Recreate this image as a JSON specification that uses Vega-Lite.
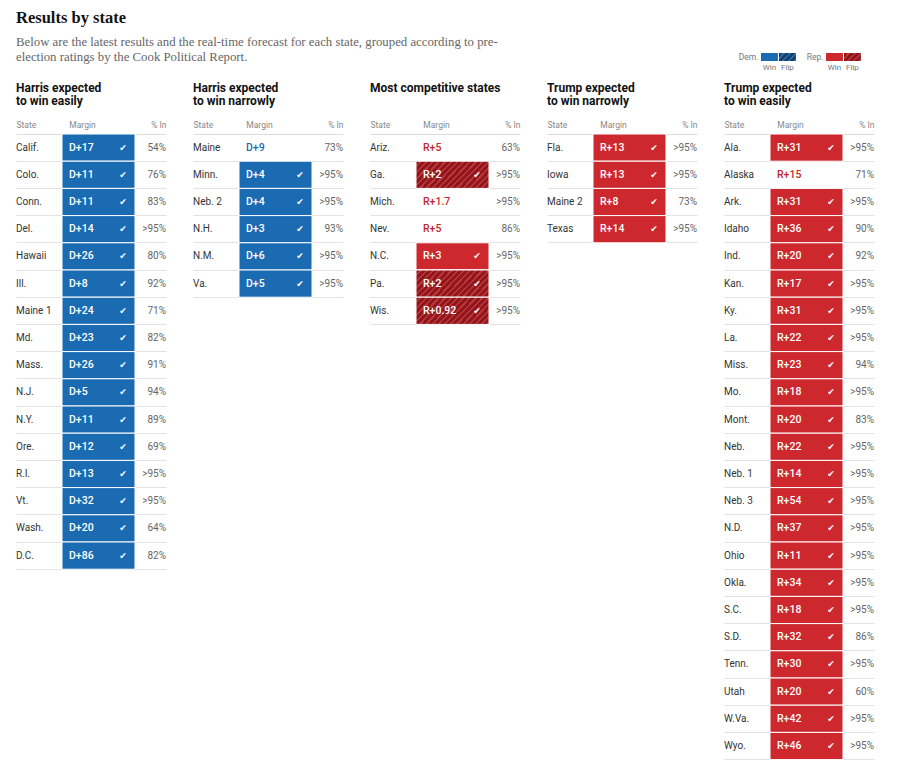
{
  "$schema": "https://vega.github.io/schema/vega-lite/v6.json",
  "padding": {"left": 16, "top": 10, "right": 6, "bottom": 4},
  "background": "white",
  "config": {"font": "Roboto", "view": {"stroke": null}},
  "title": {
    "text": "Results by state",
    "subtitle": ["Below are the latest results and the real-time forecast for each state, grouped according to pre-", "election ratings by the Cook Political Report."],
    "anchor": "start", "frame": "group",
    "font": "Liberation Serif", "fontSize": 16.5, "fontWeight": "bold", "color": "#121212",
    "subtitleFont": "Liberation Serif", "subtitleFontSize": 12.8, "subtitleColor": "#666666",
    "subtitleLineHeight": 15, "subtitlePadding": 9, "offset": -11
  },
  "datasets": {
    "rows": [
      {"g": "HE", "state": "Calif.", "margin": "D+17", "pct": "54%", "status": "D win", "lead": "D"},
      {"g": "HE", "state": "Colo.", "margin": "D+11", "pct": "76%", "status": "D win", "lead": "D"},
      {"g": "HE", "state": "Conn.", "margin": "D+11", "pct": "83%", "status": "D win", "lead": "D"},
      {"g": "HE", "state": "Del.", "margin": "D+14", "pct": ">95%", "status": "D win", "lead": "D"},
      {"g": "HE", "state": "Hawaii", "margin": "D+26", "pct": "80%", "status": "D win", "lead": "D"},
      {"g": "HE", "state": "Ill.", "margin": "D+8", "pct": "92%", "status": "D win", "lead": "D"},
      {"g": "HE", "state": "Maine 1", "margin": "D+24", "pct": "71%", "status": "D win", "lead": "D"},
      {"g": "HE", "state": "Md.", "margin": "D+23", "pct": "82%", "status": "D win", "lead": "D"},
      {"g": "HE", "state": "Mass.", "margin": "D+26", "pct": "91%", "status": "D win", "lead": "D"},
      {"g": "HE", "state": "N.J.", "margin": "D+5", "pct": "94%", "status": "D win", "lead": "D"},
      {"g": "HE", "state": "N.Y.", "margin": "D+11", "pct": "89%", "status": "D win", "lead": "D"},
      {"g": "HE", "state": "Ore.", "margin": "D+12", "pct": "69%", "status": "D win", "lead": "D"},
      {"g": "HE", "state": "R.I.", "margin": "D+13", "pct": ">95%", "status": "D win", "lead": "D"},
      {"g": "HE", "state": "Vt.", "margin": "D+32", "pct": ">95%", "status": "D win", "lead": "D"},
      {"g": "HE", "state": "Wash.", "margin": "D+20", "pct": "64%", "status": "D win", "lead": "D"},
      {"g": "HE", "state": "D.C.", "margin": "D+86", "pct": "82%", "status": "D win", "lead": "D"},
      {"g": "HN", "state": "Maine", "margin": "D+9", "pct": "73%", "status": "none", "lead": "D"},
      {"g": "HN", "state": "Minn.", "margin": "D+4", "pct": ">95%", "status": "D win", "lead": "D"},
      {"g": "HN", "state": "Neb. 2", "margin": "D+4", "pct": ">95%", "status": "D win", "lead": "D"},
      {"g": "HN", "state": "N.H.", "margin": "D+3", "pct": "93%", "status": "D win", "lead": "D"},
      {"g": "HN", "state": "N.M.", "margin": "D+6", "pct": ">95%", "status": "D win", "lead": "D"},
      {"g": "HN", "state": "Va.", "margin": "D+5", "pct": ">95%", "status": "D win", "lead": "D"},
      {"g": "C", "state": "Ariz.", "margin": "R+5", "pct": "63%", "status": "none", "lead": "R"},
      {"g": "C", "state": "Ga.", "margin": "R+2", "pct": ">95%", "status": "R flip", "lead": "R"},
      {"g": "C", "state": "Mich.", "margin": "R+1.7", "pct": ">95%", "status": "none", "lead": "R"},
      {"g": "C", "state": "Nev.", "margin": "R+5", "pct": "86%", "status": "none", "lead": "R"},
      {"g": "C", "state": "N.C.", "margin": "R+3", "pct": ">95%", "status": "R win", "lead": "R"},
      {"g": "C", "state": "Pa.", "margin": "R+2", "pct": ">95%", "status": "R flip", "lead": "R"},
      {"g": "C", "state": "Wis.", "margin": "R+0.92", "pct": ">95%", "status": "R flip", "lead": "R"},
      {"g": "TN", "state": "Fla.", "margin": "R+13", "pct": ">95%", "status": "R win", "lead": "R"},
      {"g": "TN", "state": "Iowa", "margin": "R+13", "pct": ">95%", "status": "R win", "lead": "R"},
      {"g": "TN", "state": "Maine 2", "margin": "R+8", "pct": "73%", "status": "R win", "lead": "R"},
      {"g": "TN", "state": "Texas", "margin": "R+14", "pct": ">95%", "status": "R win", "lead": "R"},
      {"g": "TE", "state": "Ala.", "margin": "R+31", "pct": ">95%", "status": "R win", "lead": "R"},
      {"g": "TE", "state": "Alaska", "margin": "R+15", "pct": "71%", "status": "none", "lead": "R"},
      {"g": "TE", "state": "Ark.", "margin": "R+31", "pct": ">95%", "status": "R win", "lead": "R"},
      {"g": "TE", "state": "Idaho", "margin": "R+36", "pct": "90%", "status": "R win", "lead": "R"},
      {"g": "TE", "state": "Ind.", "margin": "R+20", "pct": "92%", "status": "R win", "lead": "R"},
      {"g": "TE", "state": "Kan.", "margin": "R+17", "pct": ">95%", "status": "R win", "lead": "R"},
      {"g": "TE", "state": "Ky.", "margin": "R+31", "pct": ">95%", "status": "R win", "lead": "R"},
      {"g": "TE", "state": "La.", "margin": "R+22", "pct": ">95%", "status": "R win", "lead": "R"},
      {"g": "TE", "state": "Miss.", "margin": "R+23", "pct": "94%", "status": "R win", "lead": "R"},
      {"g": "TE", "state": "Mo.", "margin": "R+18", "pct": ">95%", "status": "R win", "lead": "R"},
      {"g": "TE", "state": "Mont.", "margin": "R+20", "pct": "83%", "status": "R win", "lead": "R"},
      {"g": "TE", "state": "Neb.", "margin": "R+22", "pct": ">95%", "status": "R win", "lead": "R"},
      {"g": "TE", "state": "Neb. 1", "margin": "R+14", "pct": ">95%", "status": "R win", "lead": "R"},
      {"g": "TE", "state": "Neb. 3", "margin": "R+54", "pct": ">95%", "status": "R win", "lead": "R"},
      {"g": "TE", "state": "N.D.", "margin": "R+37", "pct": ">95%", "status": "R win", "lead": "R"},
      {"g": "TE", "state": "Ohio", "margin": "R+11", "pct": ">95%", "status": "R win", "lead": "R"},
      {"g": "TE", "state": "Okla.", "margin": "R+34", "pct": ">95%", "status": "R win", "lead": "R"},
      {"g": "TE", "state": "S.C.", "margin": "R+18", "pct": ">95%", "status": "R win", "lead": "R"},
      {"g": "TE", "state": "S.D.", "margin": "R+32", "pct": "86%", "status": "R win", "lead": "R"},
      {"g": "TE", "state": "Tenn.", "margin": "R+30", "pct": ">95%", "status": "R win", "lead": "R"},
      {"g": "TE", "state": "Utah", "margin": "R+20", "pct": "60%", "status": "R win", "lead": "R"},
      {"g": "TE", "state": "W.Va.", "margin": "R+42", "pct": ">95%", "status": "R win", "lead": "R"},
      {"g": "TE", "state": "Wyo.", "margin": "R+46", "pct": ">95%", "status": "R win", "lead": "R"}
    ],
    "legend": [
      {"party": "D", "kind": "Win"},
      {"party": "D", "kind": "Flip"},
      {"party": "R", "kind": "Win"},
      {"party": "R", "kind": "Flip"}
    ]
  },
  "spacing": 11,
  "vconcat": [
    {
      "hconcat": [
        {"width": 715, "height": 8, "data": {"values": []}, "mark": {"type": "rect", "opacity": 0}, "encoding": {}},
        {
          "data": {"name": "legend"},
          "transform": [{"filter": "datum.party == 'D'"}],
          "width": {"step": 18}, "height": 8,
          "encoding": {
            "x": {"field": "kind", "type": "nominal", "sort": null, "scale": {"domain": ["Win", "Flip"], "paddingInner": 0.06, "paddingOuter": 0}, "axis": {"orient": "bottom", "title": null, "ticks": false, "domain": false, "labelAngle": 0, "labelFontSize": 8, "labelColor": "#777777", "labelPadding": 2}},
            "y": {"datum": "Dem.", "type": "nominal", "scale": {"paddingInner": 0, "paddingOuter": 0}, "axis": {"title": null, "ticks": false, "domain": false, "labelFontSize": 8.5, "labelColor": "#777777", "labelPadding": 3}}
          },
          "layer": [
            {"transform": [{"filter": "datum.kind == 'Win'"}], "mark": {"type": "rect", "fill": "#1b6bb3"}},
            {"transform": [{"filter": "datum.kind == 'Flip'"}], "mark": {"type": "rect", "fill": {"gradient": "linear", "x1": 0, "y1": 0, "x2": 1.2, "y2": 0.54, "stops": [
              {"offset": 0, "color": "#12416d"}, {"offset": 0.16, "color": "#12416d"}, {"offset": 0.16, "color": "#2f6ea8"}, {"offset": 0.25, "color": "#2f6ea8"},
              {"offset": 0.25, "color": "#12416d"}, {"offset": 0.41, "color": "#12416d"}, {"offset": 0.41, "color": "#2f6ea8"}, {"offset": 0.5, "color": "#2f6ea8"},
              {"offset": 0.5, "color": "#12416d"}, {"offset": 0.66, "color": "#12416d"}, {"offset": 0.66, "color": "#2f6ea8"}, {"offset": 0.75, "color": "#2f6ea8"},
              {"offset": 0.75, "color": "#12416d"}, {"offset": 0.91, "color": "#12416d"}, {"offset": 0.91, "color": "#2f6ea8"}, {"offset": 1, "color": "#2f6ea8"}]}}}
          ]
        },
        {
          "data": {"name": "legend"},
          "transform": [{"filter": "datum.party == 'R'"}],
          "width": {"step": 18}, "height": 8,
          "encoding": {
            "x": {"field": "kind", "type": "nominal", "sort": null, "scale": {"domain": ["Win", "Flip"], "paddingInner": 0.06, "paddingOuter": 0}, "axis": {"orient": "bottom", "title": null, "ticks": false, "domain": false, "labelAngle": 0, "labelFontSize": 8, "labelColor": "#777777", "labelPadding": 2}},
            "y": {"datum": "Rep.", "type": "nominal", "scale": {"paddingInner": 0, "paddingOuter": 0}, "axis": {"title": null, "ticks": false, "domain": false, "labelFontSize": 8.5, "labelColor": "#777777", "labelPadding": 3}}
          },
          "layer": [
            {"transform": [{"filter": "datum.kind == 'Win'"}], "mark": {"type": "rect", "fill": "#cd282e"}},
            {"transform": [{"filter": "datum.kind == 'Flip'"}], "mark": {"type": "rect", "fill": {"gradient": "linear", "x1": 0, "y1": 0, "x2": 1.2, "y2": 0.54, "stops": [
              {"offset": 0, "color": "#8f161a"}, {"offset": 0.16, "color": "#8f161a"}, {"offset": 0.16, "color": "#bb353b"}, {"offset": 0.25, "color": "#bb353b"},
              {"offset": 0.25, "color": "#8f161a"}, {"offset": 0.41, "color": "#8f161a"}, {"offset": 0.41, "color": "#bb353b"}, {"offset": 0.5, "color": "#bb353b"},
              {"offset": 0.5, "color": "#8f161a"}, {"offset": 0.66, "color": "#8f161a"}, {"offset": 0.66, "color": "#bb353b"}, {"offset": 0.75, "color": "#bb353b"},
              {"offset": 0.75, "color": "#8f161a"}, {"offset": 0.91, "color": "#8f161a"}, {"offset": 0.91, "color": "#bb353b"}, {"offset": 1, "color": "#bb353b"}]}}}
          ]
        }
      ],
      "spacing": 30,
      "bounds": "flush"
    },
    {
      "hconcat": [
        {
          "title": {"text": ["Harris expected", "to win easily"], "anchor": "start", "fontSize": 12, "fontWeight": "bold", "color": "#121212", "lineHeight": 13, "offset": 12, "font": "Roboto"},
          "data": {"name": "rows"},
          "transform": [{"filter": "datum.g == 'HE'"}],
          "width": 150,
          "height": {"step": 27.2},
          "encoding": {"y": {"field": "state", "type": "nominal", "sort": null, "title": null, "scale": {"paddingInner": 0, "paddingOuter": 0}, "axis": {"labels": false, "ticks": false, "domain": false, "grid": true, "gridColor": "#e3e3e3", "bandPosition": 1}}},
          "layer": [
            {"mark": {"type": "text", "align": "left", "baseline": "middle", "fontSize": 10, "color": "#333333"}, "encoding": {"x": {"datum": 0, "type": "quantitative", "scale": {"domain": [0, 150], "nice": false}, "axis": {"orient": "top", "values": [0, 66, 150], "labelExpr": "datum.value == 0 ? 'State' : (datum.value == 66 ? 'Margin' : '% In')", "labelFlush": true, "ticks": false, "grid": false, "domain": true, "domainColor": "#dddddd", "labelColor": "#888888", "labelFontSize": 8.5, "labelPadding": 5, "title": null}}, "text": {"field": "state"}}},
            {"mark": {"type": "rect", "stroke": "white", "strokeWidth": 1}, "encoding": {"x": {"datum": 46}, "x2": {"datum": 119}, "fill": {"field": "status", "type": "nominal", "scale": {"domain": ["D win", "D flip", "R win", "R flip", "none"], "range": ["#1b6bb3", "#12416d", "#cd282e", "#8f161a", "#ffffff"]}, "legend": null}, "opacity": {"condition": {"test": "datum.status == 'none'", "value": 0}, "value": 1}}},
            {"mark": {"type": "text", "align": "left", "baseline": "middle", "fontSize": 10.5, "fontWeight": 500}, "encoding": {"x": {"datum": 53}, "text": {"field": "margin"}, "color": {"condition": [{"test": "datum.status != 'none'", "value": "white"}, {"test": "datum.lead == 'D'", "value": "#1b6bb3"}], "value": "#c0272d"}}},
            {"mark": {"type": "text", "align": "center", "baseline": "middle", "fontSize": 9, "font": "DejaVu Sans", "color": "white"}, "encoding": {"x": {"datum": 107}, "text": {"value": "✔"}, "opacity": {"condition": {"test": "datum.status == 'none'", "value": 0}, "value": 1}}},
            {"mark": {"type": "text", "align": "right", "baseline": "middle", "fontSize": 10, "color": "#666666"}, "encoding": {"x": {"datum": 150}, "text": {"field": "pct"}}}
          ]
        },
        {
          "title": {"text": ["Harris expected", "to win narrowly"], "anchor": "start", "fontSize": 12, "fontWeight": "bold", "color": "#121212", "lineHeight": 13, "offset": 12, "font": "Roboto"},
          "data": {"name": "rows"},
          "transform": [{"filter": "datum.g == 'HN'"}],
          "width": 150,
          "height": {"step": 27.2},
          "encoding": {"y": {"field": "state", "type": "nominal", "sort": null, "title": null, "scale": {"paddingInner": 0, "paddingOuter": 0}, "axis": {"labels": false, "ticks": false, "domain": false, "grid": true, "gridColor": "#e3e3e3", "bandPosition": 1}}},
          "layer": [
            {"mark": {"type": "text", "align": "left", "baseline": "middle", "fontSize": 10, "color": "#333333"}, "encoding": {"x": {"datum": 0, "type": "quantitative", "scale": {"domain": [0, 150], "nice": false}, "axis": {"orient": "top", "values": [0, 66, 150], "labelExpr": "datum.value == 0 ? 'State' : (datum.value == 66 ? 'Margin' : '% In')", "labelFlush": true, "ticks": false, "grid": false, "domain": true, "domainColor": "#dddddd", "labelColor": "#888888", "labelFontSize": 8.5, "labelPadding": 5, "title": null}}, "text": {"field": "state"}}},
            {"mark": {"type": "rect", "stroke": "white", "strokeWidth": 1}, "encoding": {"x": {"datum": 46}, "x2": {"datum": 119}, "fill": {"field": "status", "type": "nominal", "scale": {"domain": ["D win", "D flip", "R win", "R flip", "none"], "range": ["#1b6bb3", "#12416d", "#cd282e", "#8f161a", "#ffffff"]}, "legend": null}, "opacity": {"condition": {"test": "datum.status == 'none'", "value": 0}, "value": 1}}},
            {"mark": {"type": "text", "align": "left", "baseline": "middle", "fontSize": 10.5, "fontWeight": 500}, "encoding": {"x": {"datum": 53}, "text": {"field": "margin"}, "color": {"condition": [{"test": "datum.status != 'none'", "value": "white"}, {"test": "datum.lead == 'D'", "value": "#1b6bb3"}], "value": "#c0272d"}}},
            {"mark": {"type": "text", "align": "center", "baseline": "middle", "fontSize": 9, "font": "DejaVu Sans", "color": "white"}, "encoding": {"x": {"datum": 107}, "text": {"value": "✔"}, "opacity": {"condition": {"test": "datum.status == 'none'", "value": 0}, "value": 1}}},
            {"mark": {"type": "text", "align": "right", "baseline": "middle", "fontSize": 10, "color": "#666666"}, "encoding": {"x": {"datum": 150}, "text": {"field": "pct"}}}
          ]
        },
        {
          "title": {"text": ["Most competitive states", " "], "anchor": "start", "fontSize": 12, "fontWeight": "bold", "color": "#121212", "lineHeight": 13, "offset": 12, "font": "Roboto"},
          "data": {"name": "rows"},
          "transform": [{"filter": "datum.g == 'C'"}],
          "width": 150,
          "height": {"step": 27.2},
          "encoding": {"y": {"field": "state", "type": "nominal", "sort": null, "title": null, "scale": {"paddingInner": 0, "paddingOuter": 0}, "axis": {"labels": false, "ticks": false, "domain": false, "grid": true, "gridColor": "#e3e3e3", "bandPosition": 1}}},
          "layer": [
            {"mark": {"type": "text", "align": "left", "baseline": "middle", "fontSize": 10, "color": "#333333"}, "encoding": {"x": {"datum": 0, "type": "quantitative", "scale": {"domain": [0, 150], "nice": false}, "axis": {"orient": "top", "values": [0, 66, 150], "labelExpr": "datum.value == 0 ? 'State' : (datum.value == 66 ? 'Margin' : '% In')", "labelFlush": true, "ticks": false, "grid": false, "domain": true, "domainColor": "#dddddd", "labelColor": "#888888", "labelFontSize": 8.5, "labelPadding": 5, "title": null}}, "text": {"field": "state"}}},
            {"mark": {"type": "rect", "stroke": "white", "strokeWidth": 1}, "encoding": {"x": {"datum": 46}, "x2": {"datum": 119}, "fill": {"field": "status", "type": "nominal", "scale": {"domain": ["D win", "D flip", "R win", "R flip", "none"], "range": ["#1b6bb3", "#12416d", "#cd282e", "#8f161a", "#ffffff"]}, "legend": null}, "opacity": {"condition": {"test": "datum.status == 'none'", "value": 0}, "value": 1}}},
            {"mark": {"type": "rect", "stroke": "white", "strokeWidth": 1, "fill": {"gradient": "linear", "x1": 0, "y1": 0, "x2": 1.2, "y2": 0.43, "stops": [
              {"offset": 0, "color": "#8f161a"}, {"offset": 0.04, "color": "#8f161a"}, {"offset": 0.04, "color": "#bb353b"}, {"offset": 0.0625, "color": "#bb353b"},
              {"offset": 0.0625, "color": "#8f161a"}, {"offset": 0.1025, "color": "#8f161a"}, {"offset": 0.1025, "color": "#bb353b"}, {"offset": 0.125, "color": "#bb353b"},
              {"offset": 0.125, "color": "#8f161a"}, {"offset": 0.165, "color": "#8f161a"}, {"offset": 0.165, "color": "#bb353b"}, {"offset": 0.1875, "color": "#bb353b"},
              {"offset": 0.1875, "color": "#8f161a"}, {"offset": 0.2275, "color": "#8f161a"}, {"offset": 0.2275, "color": "#bb353b"}, {"offset": 0.25, "color": "#bb353b"},
              {"offset": 0.25, "color": "#8f161a"}, {"offset": 0.29, "color": "#8f161a"}, {"offset": 0.29, "color": "#bb353b"}, {"offset": 0.3125, "color": "#bb353b"},
              {"offset": 0.3125, "color": "#8f161a"}, {"offset": 0.3525, "color": "#8f161a"}, {"offset": 0.3525, "color": "#bb353b"}, {"offset": 0.375, "color": "#bb353b"},
              {"offset": 0.375, "color": "#8f161a"}, {"offset": 0.415, "color": "#8f161a"}, {"offset": 0.415, "color": "#bb353b"}, {"offset": 0.4375, "color": "#bb353b"},
              {"offset": 0.4375, "color": "#8f161a"}, {"offset": 0.4775, "color": "#8f161a"}, {"offset": 0.4775, "color": "#bb353b"}, {"offset": 0.5, "color": "#bb353b"},
              {"offset": 0.5, "color": "#8f161a"}, {"offset": 0.54, "color": "#8f161a"}, {"offset": 0.54, "color": "#bb353b"}, {"offset": 0.5625, "color": "#bb353b"},
              {"offset": 0.5625, "color": "#8f161a"}, {"offset": 0.6025, "color": "#8f161a"}, {"offset": 0.6025, "color": "#bb353b"}, {"offset": 0.625, "color": "#bb353b"},
              {"offset": 0.625, "color": "#8f161a"}, {"offset": 0.665, "color": "#8f161a"}, {"offset": 0.665, "color": "#bb353b"}, {"offset": 0.6875, "color": "#bb353b"},
              {"offset": 0.6875, "color": "#8f161a"}, {"offset": 0.7275, "color": "#8f161a"}, {"offset": 0.7275, "color": "#bb353b"}, {"offset": 0.75, "color": "#bb353b"},
              {"offset": 0.75, "color": "#8f161a"}, {"offset": 0.79, "color": "#8f161a"}, {"offset": 0.79, "color": "#bb353b"}, {"offset": 0.8125, "color": "#bb353b"},
              {"offset": 0.8125, "color": "#8f161a"}, {"offset": 0.8525, "color": "#8f161a"}, {"offset": 0.8525, "color": "#bb353b"}, {"offset": 0.875, "color": "#bb353b"},
              {"offset": 0.875, "color": "#8f161a"}, {"offset": 0.915, "color": "#8f161a"}, {"offset": 0.915, "color": "#bb353b"}, {"offset": 0.9375, "color": "#bb353b"},
              {"offset": 0.9375, "color": "#8f161a"}, {"offset": 0.9775, "color": "#8f161a"}, {"offset": 0.9775, "color": "#bb353b"}, {"offset": 1, "color": "#bb353b"}]}},
              "encoding": {"x": {"datum": 46}, "x2": {"datum": 119}, "opacity": {"condition": {"test": "datum.status == 'R flip'", "value": 1}, "value": 0}}},
            {"mark": {"type": "text", "align": "left", "baseline": "middle", "fontSize": 10.5, "fontWeight": 500}, "encoding": {"x": {"datum": 53}, "text": {"field": "margin"}, "color": {"condition": [{"test": "datum.status != 'none'", "value": "white"}, {"test": "datum.lead == 'D'", "value": "#1b6bb3"}], "value": "#c0272d"}}},
            {"mark": {"type": "text", "align": "center", "baseline": "middle", "fontSize": 9, "font": "DejaVu Sans", "color": "white"}, "encoding": {"x": {"datum": 107}, "text": {"value": "✔"}, "opacity": {"condition": {"test": "datum.status == 'none'", "value": 0}, "value": 1}}},
            {"mark": {"type": "text", "align": "right", "baseline": "middle", "fontSize": 10, "color": "#666666"}, "encoding": {"x": {"datum": 150}, "text": {"field": "pct"}}}
          ]
        },
        {
          "title": {"text": ["Trump expected", "to win narrowly"], "anchor": "start", "fontSize": 12, "fontWeight": "bold", "color": "#121212", "lineHeight": 13, "offset": 12, "font": "Roboto"},
          "data": {"name": "rows"},
          "transform": [{"filter": "datum.g == 'TN'"}],
          "width": 150,
          "height": {"step": 27.2},
          "encoding": {"y": {"field": "state", "type": "nominal", "sort": null, "title": null, "scale": {"paddingInner": 0, "paddingOuter": 0}, "axis": {"labels": false, "ticks": false, "domain": false, "grid": true, "gridColor": "#e3e3e3", "bandPosition": 1}}},
          "layer": [
            {"mark": {"type": "text", "align": "left", "baseline": "middle", "fontSize": 10, "color": "#333333"}, "encoding": {"x": {"datum": 0, "type": "quantitative", "scale": {"domain": [0, 150], "nice": false}, "axis": {"orient": "top", "values": [0, 66, 150], "labelExpr": "datum.value == 0 ? 'State' : (datum.value == 66 ? 'Margin' : '% In')", "labelFlush": true, "ticks": false, "grid": false, "domain": true, "domainColor": "#dddddd", "labelColor": "#888888", "labelFontSize": 8.5, "labelPadding": 5, "title": null}}, "text": {"field": "state"}}},
            {"mark": {"type": "rect", "stroke": "white", "strokeWidth": 1}, "encoding": {"x": {"datum": 46}, "x2": {"datum": 119}, "fill": {"field": "status", "type": "nominal", "scale": {"domain": ["D win", "D flip", "R win", "R flip", "none"], "range": ["#1b6bb3", "#12416d", "#cd282e", "#8f161a", "#ffffff"]}, "legend": null}, "opacity": {"condition": {"test": "datum.status == 'none'", "value": 0}, "value": 1}}},
            {"mark": {"type": "text", "align": "left", "baseline": "middle", "fontSize": 10.5, "fontWeight": 500}, "encoding": {"x": {"datum": 53}, "text": {"field": "margin"}, "color": {"condition": [{"test": "datum.status != 'none'", "value": "white"}, {"test": "datum.lead == 'D'", "value": "#1b6bb3"}], "value": "#c0272d"}}},
            {"mark": {"type": "text", "align": "center", "baseline": "middle", "fontSize": 9, "font": "DejaVu Sans", "color": "white"}, "encoding": {"x": {"datum": 107}, "text": {"value": "✔"}, "opacity": {"condition": {"test": "datum.status == 'none'", "value": 0}, "value": 1}}},
            {"mark": {"type": "text", "align": "right", "baseline": "middle", "fontSize": 10, "color": "#666666"}, "encoding": {"x": {"datum": 150}, "text": {"field": "pct"}}}
          ]
        },
        {
          "title": {"text": ["Trump expected", "to win easily"], "anchor": "start", "fontSize": 12, "fontWeight": "bold", "color": "#121212", "lineHeight": 13, "offset": 12, "font": "Roboto"},
          "data": {"name": "rows"},
          "transform": [{"filter": "datum.g == 'TE'"}],
          "width": 150,
          "height": {"step": 27.2},
          "encoding": {"y": {"field": "state", "type": "nominal", "sort": null, "title": null, "scale": {"paddingInner": 0, "paddingOuter": 0}, "axis": {"labels": false, "ticks": false, "domain": false, "grid": true, "gridColor": "#e3e3e3", "bandPosition": 1}}},
          "layer": [
            {"mark": {"type": "text", "align": "left", "baseline": "middle", "fontSize": 10, "color": "#333333"}, "encoding": {"x": {"datum": 0, "type": "quantitative", "scale": {"domain": [0, 150], "nice": false}, "axis": {"orient": "top", "values": [0, 66, 150], "labelExpr": "datum.value == 0 ? 'State' : (datum.value == 66 ? 'Margin' : '% In')", "labelFlush": true, "ticks": false, "grid": false, "domain": true, "domainColor": "#dddddd", "labelColor": "#888888", "labelFontSize": 8.5, "labelPadding": 5, "title": null}}, "text": {"field": "state"}}},
            {"mark": {"type": "rect", "stroke": "white", "strokeWidth": 1}, "encoding": {"x": {"datum": 46}, "x2": {"datum": 119}, "fill": {"field": "status", "type": "nominal", "scale": {"domain": ["D win", "D flip", "R win", "R flip", "none"], "range": ["#1b6bb3", "#12416d", "#cd282e", "#8f161a", "#ffffff"]}, "legend": null}, "opacity": {"condition": {"test": "datum.status == 'none'", "value": 0}, "value": 1}}},
            {"mark": {"type": "text", "align": "left", "baseline": "middle", "fontSize": 10.5, "fontWeight": 500}, "encoding": {"x": {"datum": 53}, "text": {"field": "margin"}, "color": {"condition": [{"test": "datum.status != 'none'", "value": "white"}, {"test": "datum.lead == 'D'", "value": "#1b6bb3"}], "value": "#c0272d"}}},
            {"mark": {"type": "text", "align": "center", "baseline": "middle", "fontSize": 9, "font": "DejaVu Sans", "color": "white"}, "encoding": {"x": {"datum": 107}, "text": {"value": "✔"}, "opacity": {"condition": {"test": "datum.status == 'none'", "value": 0}, "value": 1}}},
            {"mark": {"type": "text", "align": "right", "baseline": "middle", "fontSize": 10, "color": "#666666"}, "encoding": {"x": {"datum": 150}, "text": {"field": "pct"}}}
          ]
        }
      ],
      "spacing": 27,
      "bounds": "flush"
    }
  ]
}
